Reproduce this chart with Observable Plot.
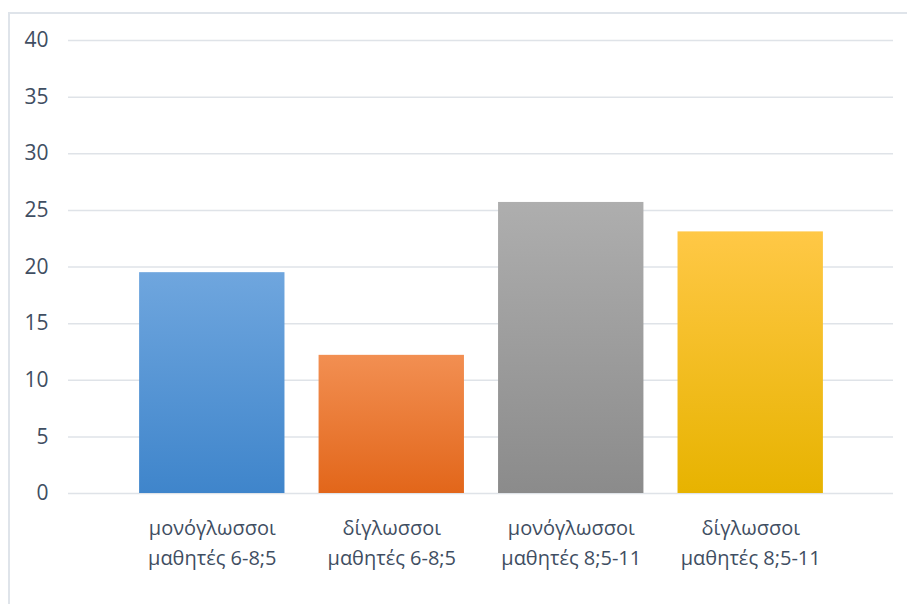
<!DOCTYPE html>
<html>
<head>
<meta charset="utf-8">
<script src="https://cdn.jsdelivr.net/npm/d3@7"></script>
<script src="https://cdn.jsdelivr.net/npm/@observablehq/plot@0.6"></script>
<style>
  html, body { margin: 0; padding: 0; background: #fff; overflow: hidden; }
  #wrap { position: relative; width: 907px; height: 604px; }
  #border { position: absolute; left: 8px; top: 12px; width: 920px; height: 620px; border: 2px solid #dfe4ea; box-sizing: border-box; }
  #chart { position: absolute; left: 0; top: 0; }
</style>
</head>
<body>
<div id="wrap"><div id="border"></div><div id="chart"></div></div>
<script>
const categories = ["μονόγλωσσοι\nμαθητές 6-8;5", "δίγλωσσοι\nμαθητές 6-8;5", "μονόγλωσσοι\nμαθητές 8;5-11", "δίγλωσσοι\nμαθητές 8;5-11"];
const values = [19.5, 12.2, 25.7, 23.1];
const gradTop = ["#6FA6DE", "#F28F52", "#AEAEAE", "#FFC846"];
const gradBottom = ["#3F85CB", "#E2661A", "#8B8B8B", "#E7B300"];
const yTicks = [0, 5, 10, 15, 20, 25, 30, 35, 40];

const data = categories.map((c, i) => ({cat: c, value: values[i], fill: `url(#grad${i})`}));

const plot = Plot.plot({
  width: 907,
  height: 604,
  marginLeft: 68,
  marginRight: 14,
  marginTop: 40,
  marginBottom: 111,
  style: {fontFamily: "'Open Sans', sans-serif", fontSize: "20px", color: "#3F4E62", background: "transparent"},
  x: {domain: categories, range: [105, 857], padding: 0.19, round: false, label: null},
  y: {domain: [0, 40], label: null},
  color: {type: "identity"},
  marks: [
    Plot.ruleY(yTicks, {stroke: "#dfe3e8", strokeWidth: 1.5}),
    Plot.barY(data, {x: "cat", y: "value", fill: "fill"}),
    Plot.axisY({ticks: yTicks, tickSize: 0, tickPadding: 20, fontSize: 21, fill: "#3F4E62"}),
    Plot.axisX({tickSize: 0, tickPadding: 20, fontSize: 20, lineHeight: 1.5, fill: "#3F4E62"})
  ]
});

const ns = "http://www.w3.org/2000/svg";
const defs = document.createElementNS(ns, "defs");
gradTop.forEach((t, i) => {
  const g = document.createElementNS(ns, "linearGradient");
  g.setAttribute("id", `grad${i}`);
  g.setAttribute("x1", "0"); g.setAttribute("y1", "0");
  g.setAttribute("x2", "0"); g.setAttribute("y2", "1");
  const s1 = document.createElementNS(ns, "stop");
  s1.setAttribute("offset", "0"); s1.setAttribute("stop-color", t);
  const s2 = document.createElementNS(ns, "stop");
  s2.setAttribute("offset", "1"); s2.setAttribute("stop-color", gradBottom[i]);
  g.appendChild(s1); g.appendChild(s2);
  defs.appendChild(g);
});
plot.insertBefore(defs, plot.firstChild);
document.getElementById("chart").appendChild(plot);
</script>
</body>
</html>
